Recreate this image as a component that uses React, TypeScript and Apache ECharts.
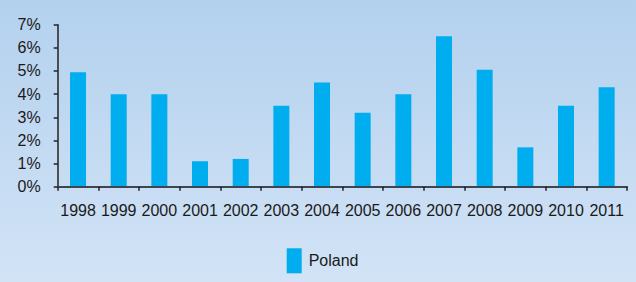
import React, { useEffect, useRef } from "react";
import * as echarts from "echarts";

const categories = ["1998", "1999", "2000", "2001", "2002", "2003", "2004", "2005", "2006", "2007", "2008", "2009", "2010", "2011"];
const polandValues = [4.95, 4.0, 4.0, 1.1, 1.2, 3.5, 4.5, 3.2, 4.0, 6.5, 5.05, 1.7, 3.5, 4.3];
const seriesName = "Poland";

export default function App() {
  const ref = useRef<HTMLDivElement>(null);
  useEffect(() => {
    if (!ref.current) return;
    const chart = echarts.init(ref.current, undefined, { renderer: "svg" });
    const font = "'Liberation Sans', sans-serif";
    chart.setOption({
      animation: false,
      grid: { left: 57.7, right: 9, top: 24.7, bottom: 95.3, containLabel: false },
      legend: {
        data: [seriesName],
        left: 286.7,
        top: 248.3,
        padding: 0,
        icon: "rect",
        itemWidth: 15,
        itemHeight: 25,
        itemGap: 5,
        textStyle: { fontFamily: font, fontSize: 16, color: "#1a1a1a", padding: [0, 0, 0, 2] },
      },
      xAxis: {
        type: "category",
        data: categories,
        axisLine: { show: true, lineStyle: { color: "#3c4550", width: 2 } },
        axisTick: { show: true, length: 4, lineStyle: { color: "#222", width: 1.5 } },
        axisLabel: { fontFamily: font, fontSize: 16, color: "#1a1a1a", margin: 16, interval: 0 },
        z: 5,
      },
      yAxis: {
        type: "value",
        min: 0,
        max: 7,
        interval: 1,
        axisLine: { show: true, lineStyle: { color: "#222", width: 1.5 } },
        axisTick: { show: true, length: 4, lineStyle: { color: "#222", width: 1.5 } },
        splitLine: { show: false },
        axisLabel: { fontFamily: font, fontSize: 16, color: "#1a1a1a", margin: 17, formatter: "{value}%" },
      },
      series: [
        {
          name: seriesName,
          type: "bar",
          data: polandValues,
          barWidth: 16,
          itemStyle: { color: "#00adef" },
        },
      ],
    });
    return () => chart.dispose();
  }, []);
  return (
    <div
      ref={ref}
      style={{
        position: "fixed",
        left: 0,
        top: 0,
        width: 636,
        height: 282,
        background: "linear-gradient(to bottom, #b3d1ee 0%, #d2e3f6 100%)",
      }}
    />
  );
}
